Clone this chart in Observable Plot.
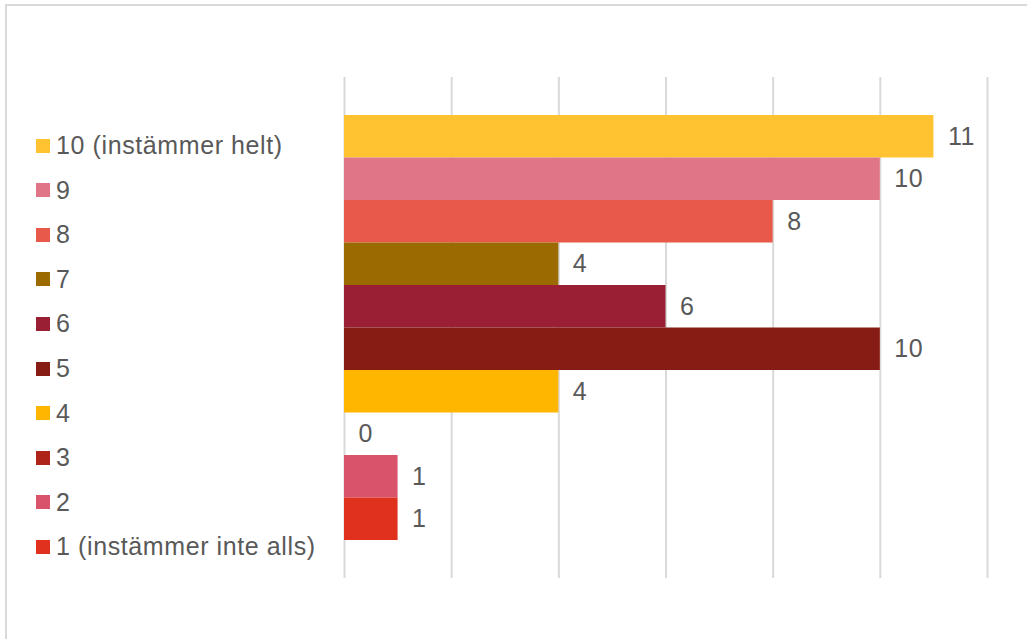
<!DOCTYPE html>
<html>
<head>
<meta charset="utf-8">
<script src="https://cdn.jsdelivr.net/npm/d3@7"></script>
<script src="https://cdn.jsdelivr.net/npm/@observablehq/plot@0.6"></script>
<style>
  html, body { margin: 0; padding: 0; background: #fff; }
  #wrap { position: relative; width: 1027px; height: 639px; overflow: hidden; font-family: "Liberation Sans", Arial, sans-serif; }
  #frame { position: absolute; left: 5px; top: 4px; width: 1100px; height: 700px; border-top: 2px solid #D9D9D9; border-left: 2px solid #D9D9D9; }
  #chart { position: absolute; left: 0; top: 0; }
  #legend { position: absolute; left: 36px; top: 0; }
  .item { position: absolute; left: 0; display: flex; align-items: center; height: 30px; white-space: nowrap; font-size: 25px; color: #595959; letter-spacing: 0.6px; }
  .sw { width: 14px; height: 14px; margin-right: 6px; flex: none; }
  #chart text { letter-spacing: 0.6px; }
</style>
</head>
<body>
<div id="wrap">
  <div id="frame"></div>
  <div id="chart"></div>
  <div id="legend"></div>
</div>
<script>
const categories = ["10 (instämmer helt)", "9", "8", "7", "6", "5", "4", "3", "2", "1 (instämmer inte alls)"];
const values = [11, 10, 8, 4, 6, 10, 4, 0, 1, 1];
const colors = ["#FFC231", "#E17588", "#E8594A", "#9B6A00", "#9A1F35", "#861C14", "#FFB600", "#AE2419", "#D9536B", "#E0311F"];
const xTicks = [0, 2, 4, 6, 8, 10, 12];

const data = categories.map((c, i) => ({category: c, value: values[i], color: colors[i]}));

const plot = Plot.plot({
  width: 1027,
  height: 639,
  marginLeft: 344,
  marginRight: 40,
  marginTop: 77,
  marginBottom: 61,
  style: {fontFamily: "'Liberation Sans', Arial, sans-serif", background: "transparent"},
  x: {domain: [0, 12], axis: null},
  y: {domain: categories, axis: null, paddingInner: 0, paddingOuter: 0.894, round: false},
  color: {type: "identity"},
  marks: [
    Plot.ruleX(xTicks, {stroke: "#D9D9D9", strokeWidth: 2}),
    Plot.barX(data, {x: "value", y: "category", fill: "color"}),
    Plot.text(data, {x: "value", y: "category", text: d => String(d.value), textAnchor: "start", dx: 14, fill: "#595959", fontSize: 25})
  ]
});
document.getElementById("chart").appendChild(plot);

const legend = document.getElementById("legend");
const legendTop = 145.5, legendStep = 44.6;
categories.forEach((c, i) => {
  const item = document.createElement("div");
  item.className = "item";
  item.style.top = (legendTop + i * legendStep - 15) + "px";
  const sw = document.createElement("span");
  sw.className = "sw";
  sw.style.background = colors[i];
  const t = document.createElement("span");
  t.textContent = c;
  item.appendChild(sw);
  item.appendChild(t);
  legend.appendChild(item);
});
</script>
</body>
</html>
